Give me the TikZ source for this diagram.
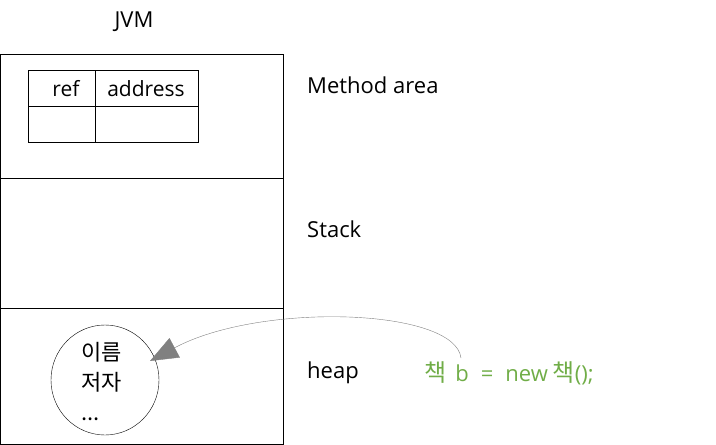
\documentclass[tikz,border=0pt]{standalone}
\usepackage{fontspec}
\setmainfont{Open Sans}
\newfontfamily\kr{Noto Sans CJK KR}
\usetikzlibrary{arrows.meta,shapes.geometric}
\definecolor{codegreen}{HTML}{70AD47}
\tikzset{
    lbl/.style={anchor=west,inner sep=0pt,font=\fontsize{22}{26}\selectfont},
    cell/.style={inner sep=0pt,font=\fontsize{21}{24}\selectfont}
}
\begin{document}
\begin{tikzpicture}[x=1pt,y=-1pt]
    \useasboundingbox (0,0) rectangle (716,445);
    % jvm memory areas
    \draw (0,54) rectangle (283,444);
    \draw (0,178) -- (283,178);
    \draw (0,308) -- (283,308);
    \node[cell,font=\fontsize{22}{26}\selectfont] (jvm) at (134,22) {JVM};
    \node[lbl] (method) at (307,85) {Method area};
    \node[lbl] (stack) at (307,229) {Stack};
    \node[lbl] (heap) at (307,373) {heap};
    % ref table
    \draw (28,70) rectangle (198,142);
    \draw (95,70) -- (95,142);
    \draw (28,106) -- (198,106);
    \node[cell] (ref) at (66,89) {ref};
    \node[cell] (addr) at (146,89) {address};
    % object in heap
    \node[draw,ellipse,minimum width=108,minimum height=110,inner sep=0pt] (obj) at (105,380) {};
    \node[cell,align=left,anchor=west,font=\kr\fontsize{22}{30}\selectfont] (fields) at (81,382) {이름\\저자\\...};
    \node[lbl,text=codegreen] (code) at (424,373) {{\kr\fontsize{24}{26}\selectfont 책}\hspace{9pt}b\hspace{12pt}=\hspace{12pt}new\hspace{5pt}{\kr\fontsize{24}{26}\selectfont 책}();};
    \coordinate (bvar) at (461,358);
    \draw[gray,-{Triangle[width=22pt,length=28pt]}] (bvar) .. controls (455,308) and (260,302) .. (150,361);
\end{tikzpicture}
\end{document}
